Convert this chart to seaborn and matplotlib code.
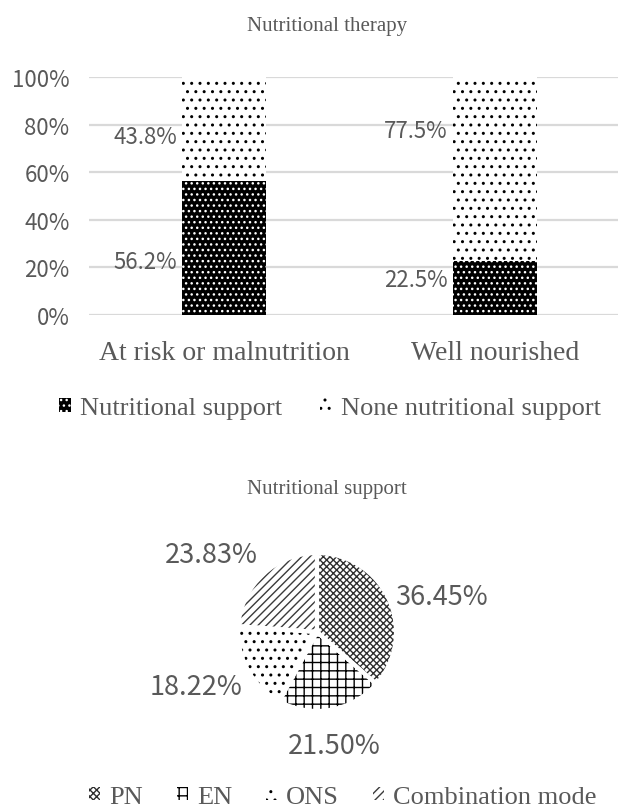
import matplotlib
matplotlib.use("Agg")
import matplotlib.pyplot as plt
from matplotlib.patches import Patch
import seaborn as sns
import pandas as pd
import numpy as np

# Nutritional therapy (stacked %, per group)
groups = ["At risk or malnutrition", "Well nourished"]
support = [56.2, 22.5]
no_support = [43.8, 77.5]
series_names = ["Nutritional support", "None nutritional support"]

# Nutritional support modes (pie)
modes = ["PN", "EN", "ONS", "Combination mode"]
mode_share = [36.45, 21.50, 18.22, 23.83]

sns.set_theme(style="white")
plt.rcParams["font.family"] = ["Liberation Serif", "DejaVu Serif"]
plt.rcParams["hatch.linewidth"] = 1.0

grey = "#595959"
num_font = ["Noto Sans CJK SC", "DejaVu Sans"]

fig = plt.figure(figsize=(6.18, 8.12), dpi=100)

# ---- stacked bars ----
ax = fig.add_axes([89 / 618, 1 - 316 / 812, 541.5 / 618, 238 / 812])
df = pd.DataFrame({
    "group": groups,
    "support": support,
    "total": [s + n for s, n in zip(support, no_support)],
})
sns.barplot(data=df, x="group", y="total", color="white", saturation=1,
            width=0.31, edgecolor="black", linewidth=0, hatch="..",
            errorbar=None, ax=ax)
sns.barplot(data=df, x="group", y="support", color="black", saturation=1,
            width=0.31, edgecolor="white", linewidth=0, hatch="...",
            errorbar=None, ax=ax)

ax.set_xlim(-0.5, 1.5)
ax.set_ylim(0, 100)
ax.set_yticks(range(0, 101, 20))
ax.set_yticklabels([f"{t}%" for t in range(0, 101, 20)], family=num_font,
                   fontsize=16, color=grey, fontweight="light")
ax.set_xticks(range(len(groups)))
ax.set_xticklabels(groups, fontsize=20, color=grey)
ax.tick_params(axis="both", length=0)
ax.tick_params(axis="y", pad=14)
ax.tick_params(axis="x", pad=18)
ax.set_xlabel("")
ax.set_ylabel("")
ax.yaxis.grid(True, color="#d9d9d9", lw=1.6)
ax.set_axisbelow(True)
sns.despine(ax=ax, left=True, bottom=True)

# label heights (placement only, as in the original layout)
label_y_support = [22.3, 15.1]
label_y_none = [74.8, 77.7]
for i in range(len(groups)):
    x_lab = i - 0.155 - 0.02
    ax.text(x_lab, label_y_support[i], f"{support[i]}%", ha="right",
            va="center", family=num_font, fontsize=16, color=grey,
            fontweight="light")
    ax.text(x_lab, label_y_none[i], f"{no_support[i]}%", ha="right",
            va="center", family=num_font, fontsize=16, color=grey,
            fontweight="light")

fig.text(327 / 618, 1 - 27 / 812, "Nutritional therapy", ha="center",
         va="center", fontsize=15, color=grey)

bar_handles = [
    Patch(facecolor="black", edgecolor="white", hatch="...", lw=0),
    Patch(facecolor="white", edgecolor="black", hatch="..", lw=0),
]
fig.legend(bar_handles, series_names, loc="center",
           bbox_to_anchor=(330 / 618, 1 - 409 / 812), ncol=2, frameon=False,
           fontsize=19, handlelength=0.45, handleheight=0.45,
           handletextpad=0.35, columnspacing=1.4, labelcolor=grey)

# ---- pie ----
cx, cy, r = 317, 633, 79
half = 2.5 * r
pax = fig.add_axes([(cx - half) / 618, (812 - cy - half) / 812,
                    2 * half / 618, 2 * half / 812])
wedges, _ = pax.pie(mode_share, startangle=90, counterclock=False,
                    colors=["white"] * 4, wedgeprops=dict(linewidth=0))
hatches = ["xxxxx", "++", "..", "////"]
hcolors = ["#2e2e2e", "black", "black", "#3a3a3a"]
for w, h, c in zip(wedges, hatches, hcolors):
    w.set_hatch(h)
    w.set_edgecolor(c)
    w.set_linewidth(0)
pax.pie(mode_share, startangle=90, counterclock=False,
        wedgeprops=dict(linewidth=3, edgecolor="white", fill=False))
pax.set_xlim(-2.5, 2.5)
pax.set_ylim(-2.5, 2.5)

label_dist = [1.08, 1.28, 1.08, 1.1]
for w, v, d in zip(wedges, mode_share, label_dist):
    mid = np.deg2rad((w.theta1 + w.theta2) / 2)
    ux, uy = np.cos(mid), np.sin(mid)
    ha = "left" if ux > 0.3 else ("right" if ux < -0.3 else "center")
    va = "bottom" if uy > 0.5 else ("top" if uy < -0.4 else "center")
    pax.text(d * ux, d * uy, f"{v:.2f}%", ha=ha, va=va, family=num_font,
             fontsize=19.5, color=grey, fontweight="light")

fig.text(327 / 618, 1 - 490 / 812, "Nutritional support", ha="center",
         va="center", fontsize=15, color=grey)

pie_handles = [
    Patch(facecolor="white", edgecolor=c, hatch=h, lw=0)
    for h, c in zip(hatches, hcolors)
]
fig.legend(pie_handles, modes, loc="center",
           bbox_to_anchor=(343 / 618, 1 - 798 / 812), ncol=4, frameon=False,
           fontsize=19, handlelength=0.4, handleheight=0.4,
           handletextpad=0.35, columnspacing=1.3, labelcolor=grey)

fig.savefig("out.png", dpi=100)
